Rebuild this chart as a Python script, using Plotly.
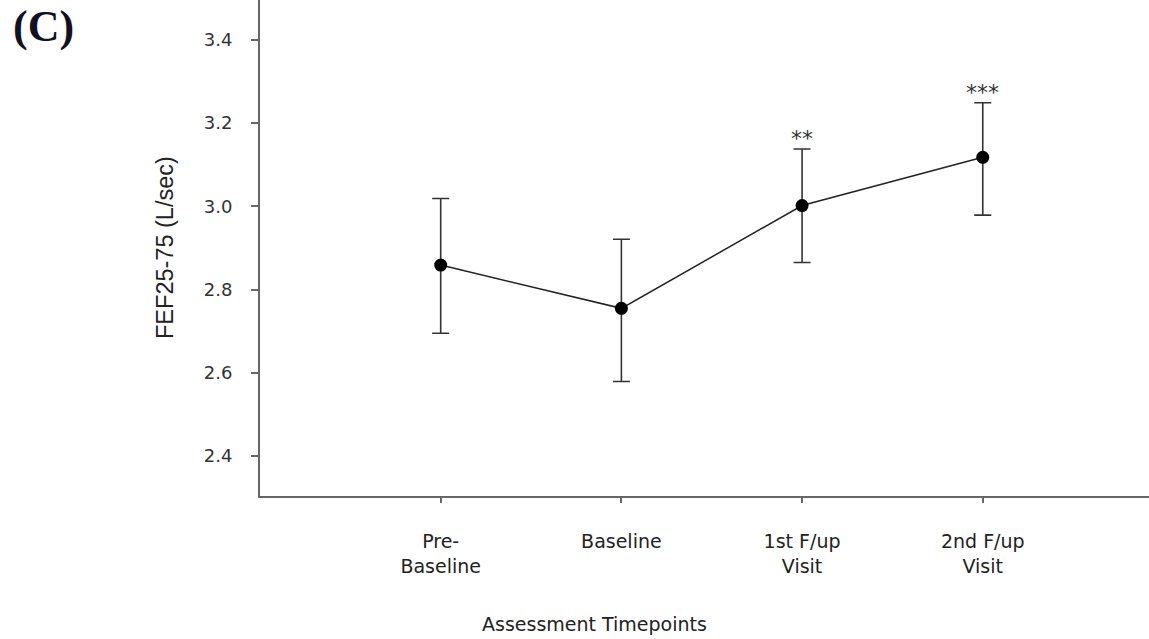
import plotly.graph_objects as go

categories = ["Pre-<br>Baseline", "Baseline", "1st F/up<br>Visit", "2nd F/up<br>Visit"]
means = [2.859, 2.755, 3.002, 3.118]
upper = [3.019, 2.921, 3.138, 3.249]
lower = [2.695, 2.579, 2.865, 2.979]
stars = ["", "", "**", "***"]
x_idx = [0, 1, 2, 3]
y_ticks = [2.4, 2.6, 2.8, 3.0, 3.2, 3.4]
y_labels = ["2.4", "2.6", "2.8", "3.0", "3.2", "3.4"]

err_plus = [u - m for u, m in zip(upper, means)]
err_minus = [m - l for m, l in zip(means, lower)]

SANS = "DejaVu Sans, Liberation Sans, Arial"

fig = go.Figure()
fig.add_trace(go.Scatter(
    x=x_idx, y=means, mode="lines+markers",
    line=dict(color="#222222", width=1.5),
    marker=dict(color="black", size=13),
    error_y=dict(type="data", symmetric=False, array=err_plus, arrayminus=err_minus,
                 color="#333333", thickness=1.6, width=8.5),
    showlegend=False,
))

for xi, u, s in zip(x_idx, upper, stars):
    if s:
        fig.add_annotation(x=xi, y=u, text=s, showarrow=False, yanchor="bottom", yshift=-4,
                           font=dict(family=SANS, size=22, color="#333333"))

fig.add_annotation(xref="paper", yref="paper", x=0, y=0.5, xshift=-95, text="FEF25-75 (L/sec)",
                   textangle=-90, showarrow=False, xanchor="center", yanchor="middle",
                   font=dict(family="Liberation Sans, Arial", size=23.5, color="#222222"))
fig.add_annotation(xref="x", yref="paper", x=0.85, y=0, yshift=-128, text="Assessment Timepoints",
                   showarrow=False, xanchor="center", yanchor="middle",
                   font=dict(family=SANS, size=19, color="#222222"))
fig.add_annotation(xref="paper", yref="paper", x=0, y=1, xshift=-249, yshift=0, text="<b>(C)</b>",
                   showarrow=False, xanchor="left", yanchor="top",
                   font=dict(family="Liberation Serif, Times New Roman", size=44, color="#111122"))

fig.update_layout(
    width=1149, height=639,
    margin=dict(l=260, r=0, t=0, b=143),
    plot_bgcolor="white", paper_bgcolor="white",
    xaxis=dict(range=[-1, 3.92], tickvals=x_idx, ticktext=categories, showgrid=False, zeroline=False,
               showline=True, linecolor="#666666", linewidth=2, ticks="outside", ticklen=5,
               tickcolor="#666666", tickwidth=1.5, ticklabelstandoff=22,
               tickfont=dict(family=SANS, size=19, color="#222222")),
    yaxis=dict(range=[2.304, 3.496], tickvals=y_ticks, ticktext=y_labels, showgrid=False, zeroline=False,
               showline=True, linecolor="#666666", linewidth=2, ticks="outside", ticklen=7,
               tickcolor="#666666", tickwidth=1.5, ticklabelstandoff=15,
               tickfont=dict(family=SANS, size=18, color="#333333")),
)

fig.write_html("out.html", config={"displayModeBar": False},
               post_script="document.body.style.margin='0px';")
